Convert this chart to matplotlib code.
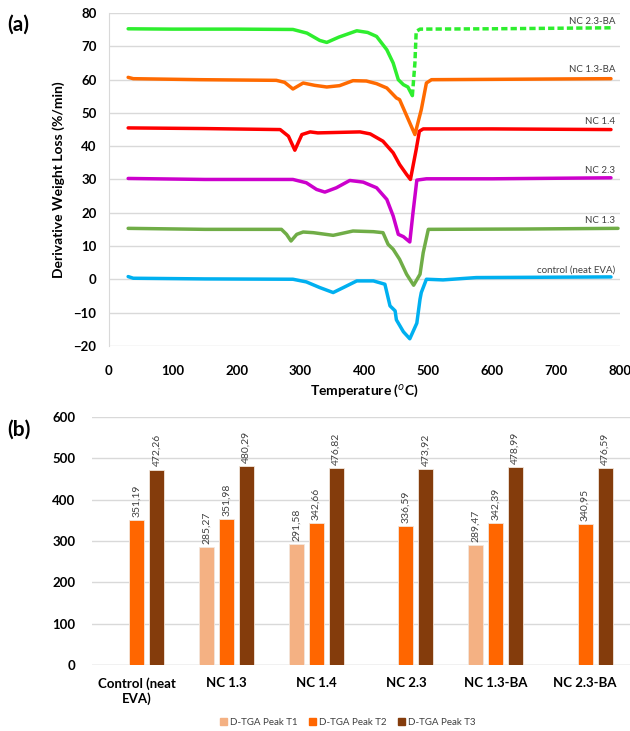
import numpy as np
import matplotlib
matplotlib.use("Agg")
import matplotlib.pyplot as plt
from matplotlib.patches import Patch

plt.rcParams['font.family'] = ['Lato', 'DejaVu Sans']

# ---- (a) D-TGA curves ----
t_nc23ba = [30, 100, 200, 288, 310, 330, 341, 360, 388, 405, 419, 435, 445, 453, 461, 468, 475, 479, 481, 487, 600, 786]
v_nc23ba = [75.3, 75.2, 75.2, 75.1, 74.0, 71.8, 71.2, 72.8, 74.7, 74.2, 73.0, 69.0, 65.0, 60.0, 58.5, 57.8, 55.2, 65.0, 74.5, 75.2, 75.3, 75.6]

t_nc13ba = [30, 38, 142, 262, 275, 288, 304, 322, 341, 361, 382, 403, 419, 435, 450, 455, 471, 479, 489, 497, 505, 600, 786]
v_nc13ba = [60.7, 60.3, 60.0, 59.8, 59.2, 57.2, 59.0, 58.3, 57.8, 58.2, 59.7, 59.6, 58.8, 57.5, 54.5, 54.0, 47.0, 43.5, 51.0, 59.0, 60.0, 60.1, 60.3]

t_nc14 = [30, 150, 268, 281, 291, 302, 315, 327, 393, 409, 429, 445, 455, 466, 472, 481, 486, 492, 600, 786]
v_nc14 = [45.5, 45.3, 45.0, 43.0, 38.8, 43.5, 44.3, 44.0, 44.3, 43.7, 41.5, 38.0, 34.5, 31.5, 30.0, 39.0, 44.5, 45.2, 45.2, 45.0]

t_nc23 = [30, 150, 288, 309, 325, 338, 356, 377, 398, 419, 435, 445, 453, 461, 471, 476, 482, 497, 600, 786]
v_nc23 = [30.3, 30.0, 30.0, 29.0, 27.0, 26.2, 27.5, 29.7, 29.2, 27.5, 24.0, 19.0, 13.5, 12.8, 11.2, 20.0, 29.8, 30.2, 30.2, 30.5]

t_nc13 = [30, 150, 270, 278, 285, 294, 304, 320, 351, 382, 414, 429, 437, 445, 455, 466, 477, 487, 492, 500, 650, 797]
v_nc13 = [15.3, 15.0, 15.0, 13.5, 11.5, 13.5, 14.2, 14.0, 13.2, 14.5, 14.3, 14.0, 10.5, 9.0, 6.0, 1.5, -1.8, 1.5, 8.0, 15.0, 15.1, 15.3]

t_ctrl = [30, 38, 150, 288, 309, 330, 351, 367, 388, 414, 432, 440, 448, 450, 461, 471, 482, 487, 489, 497, 523, 575, 786]
v_ctrl = [0.8, 0.3, 0.1, 0.0, -0.8, -2.5, -4.0, -2.5, -0.5, -0.5, -1.5, -8.0, -9.5, -12.2, -15.8, -17.9, -13.2, -6.0, -4.0, 0.0, -0.2, 0.5, 0.7]

# (temps, values, colour, label, label y, temp where the trace turns dashed)
curves = [
    (t_nc23ba, v_nc23ba, '#2EEE2E', 'NC 2.3-BA', 77.4, 475),
    (t_nc13ba, v_nc13ba, '#FF6A00', 'NC 1.3-BA', 63.0, None),
    (t_nc14, v_nc14, '#FF0000', 'NC 1.4', 47.4, None),
    (t_nc23, v_nc23, '#CC00CC', 'NC 2.3', 32.7, None),
    (t_nc13, v_nc13, '#70AD47', 'NC 1.3', 17.7, None),
    (t_ctrl, v_ctrl, '#00B0F0', 'control (neat EVA)', 2.9, None),
]

# ---- (b) peak temperatures ----
groups = ['Control (neat\nEVA)', 'NC 1.3', 'NC 1.4', 'NC 2.3', 'NC 1.3-BA', 'NC 2.3-BA']
peak_t1 = [np.nan, 285.27, 291.58, np.nan, 289.47, np.nan]
peak_t2 = [351.19, 351.98, 342.66, 336.59, 342.39, 340.95]
peak_t3 = [472.26, 480.29, 476.82, 473.92, 478.99, 476.59]
series_names = ['D-TGA Peak T1', 'D-TGA Peak T2', 'D-TGA Peak T3']
series_colors = ['#F4B183', '#FF6600', '#843C0C']

grid_c = '#D9D9D9'
fig = plt.figure(figsize=(6.3, 7.31), dpi=100)

# panel a
ax = fig.add_axes([0.173, 0.527, 0.811, 0.455])
for t, v, c, name, ly, dash_from in curves:
    t = np.array(t)
    v = np.array(v)
    if dash_from is None:
        ax.plot(t, v, color=c, lw=2.5, solid_capstyle='round', zorder=3)
    else:
        m = t <= dash_from
        ax.plot(t[m], v[m], color=c, lw=2.5, solid_capstyle='round', zorder=3)
        m2 = t >= dash_from
        ax.plot(t[m2], v[m2], color=c, lw=2.5, ls=(0, (1.8, 0.9)), zorder=3)
    ax.text(793, ly, name, ha='right', va='center', fontsize=7, color='#404040')
ax.set_xlim(0, 800)
ax.set_ylim(-20, 80)
ax.set_xticks(range(0, 801, 100))
ax.set_yticks(range(-20, 81, 10))
ax.grid(axis='y', color=grid_c, lw=1)
ax.set_axisbelow(True)
for s in ['top', 'right', 'bottom']:
    ax.spines[s].set_visible(False)
ax.spines['left'].set_color(grid_c)
ax.tick_params(length=0, labelsize=9.5)
ax.tick_params(axis='x', pad=14)
ax.tick_params(axis='y', pad=9)
for lab in ax.get_xticklabels() + ax.get_yticklabels():
    lab.set_fontweight('bold')
ax.set_xlabel('Temperature ($^{o}$C)', fontsize=10, fontweight='bold', labelpad=4)
ax.set_ylabel('Derivative Weight Loss (%/min)', fontsize=10, fontweight='bold', labelpad=6)

# panel b
bx = fig.add_axes([0.146, 0.0903, 0.854, 0.3393])
x = np.arange(len(groups))
step = 20 / 90
w = 15 / 90
for k, vals in enumerate([peak_t1, peak_t2, peak_t3]):
    pos = x + (k - 1) * step
    bx.bar(pos, vals, width=w, color=series_colors[k], edgecolor='#F2E6DC', lw=0.6, zorder=3)
    for p, v in zip(pos, vals):
        if not np.isnan(v):
            bx.text(p, v + 8, f'{v:.2f}'.replace('.', ','), rotation=90, ha='center', va='bottom',
                    fontsize=7.5, color='#404040')
bx.set_xlim(-0.5, 5.5)
bx.set_ylim(0, 600)
bx.set_yticks(range(0, 601, 100))
bx.set_xticks(x)
bx.set_xticklabels(groups)
bx.grid(axis='y', color=grid_c, lw=1)
bx.set_axisbelow(True)
for s in ['top', 'right', 'left', 'bottom']:
    bx.spines[s].set_visible(False)
bx.axhline(0, color=grid_c, lw=1, zorder=1)
bx.tick_params(length=0, labelsize=9.5)
bx.tick_params(axis='x', pad=9)
bx.tick_params(axis='y', pad=12)
for lab in bx.get_xticklabels() + bx.get_yticklabels():
    lab.set_fontweight('bold')

handles = [Patch(color=c, label=n) for c, n in zip(series_colors, series_names)]
fig.legend(handles=handles, loc='center', bbox_to_anchor=(0.552, 0.012), ncol=3, frameon=False,
           fontsize=7, handlelength=0.7, handleheight=0.7, handletextpad=0.3, columnspacing=1.2,
           labelcolor='#404040')

fig.text(0.011, 0.966, '(a)', fontsize=15, fontweight='bold', va='center')
fig.text(0.011, 0.412, '(b)', fontsize=15, fontweight='bold', va='center')

fig.savefig('out.png', dpi=100)
